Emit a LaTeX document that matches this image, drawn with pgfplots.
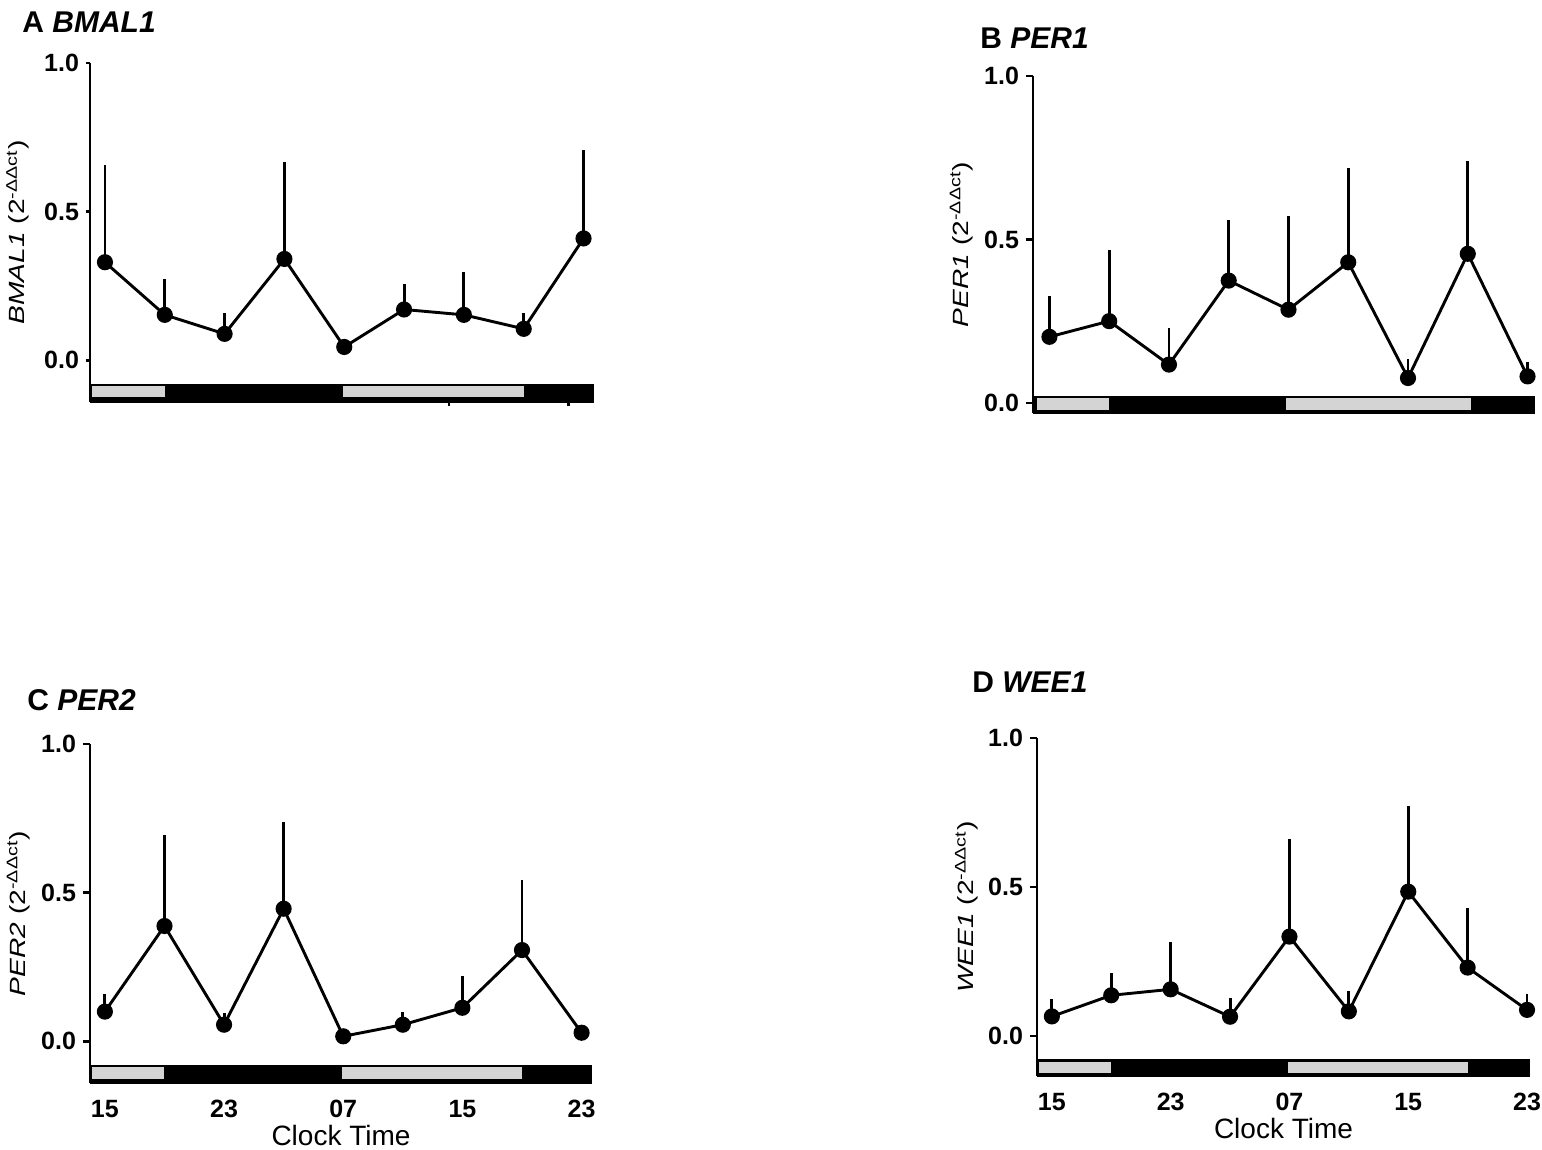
\documentclass[border=0pt]{standalone}
\usepackage{fontspec}
\setmainfont{Liberation Sans}
\usepackage{pgfplots}
\pgfplotsset{compat=1.18}
\definecolor{lightbar}{HTML}{D4D4D4}
\newcommand{\ylab}[1]{\scalebox{1.28}[1]{\textit{#1} (2\textsuperscript{-ΔΔct})}}
\pgfplotsset{
  panel/.style={
    scale only axis, axis lines*=left, clip=false,
    ymax=1.0, ytick={0,0.5,1}, yticklabels={0.0,0.5,1.0},
    tick align=outside, major tick length=3.5pt,
    axis line style={line width=1.4pt,black},
    tick style={line width=1.2pt,black},
    tick label style={font=\bfseries\fontsize{12.5}{14}\selectfont},
    /pgf/number format/assume math mode=true,
    every axis y label/.style={at={(axis description cs:-0.143,0.5)},rotate=90,anchor=center,font=\fontsize{11}{12}\selectfont},
    every axis x label/.style={at={(axis description cs:0.5,0)},anchor=center,yshift=-26pt,font=\fontsize{14}{16}\selectfont},
  },
  series/.style={black, line width=1.45pt, mark=*, mark size=3.3pt,
    error bars/.cd, y dir=plus, y explicit, error mark=none,
    error bar style={line width=1.45pt}},
  timelabels/.style={xtick={15,23,31,39,47}, xticklabels={15,23,07,15,23},
    xtick style={draw=none}, xticklabel style={yshift=-1.5pt}},
}
\begin{document}
\begin{tikzpicture}[x=1pt,y=1pt]
\path[use as bounding box] (0,0) rectangle (771,575);

% ---------- A BMAL1
\begin{axis}[panel, at={(45pt,374pt)}, anchor=south west, width=252pt, height=169.5pt,
  xmin=14, xmax=47.7, ymin=-0.14, xtick={38,46}, xticklabels={}, major tick length=2pt,
  ylabel={\ylab{BMAL1}}]
\addplot[fill=black,draw=none] coordinates {(14,-0.078) (47.7,-0.078) (47.7,-0.14) (14,-0.14)} --cycle;
\addplot[fill=lightbar,draw=none] coordinates {(14.15,-0.087) (19,-0.087) (19,-0.124) (14.15,-0.124)} --cycle;
\addplot[fill=lightbar,draw=none] coordinates {(30.9,-0.087) (43,-0.087) (43,-0.124) (30.9,-0.124)} --cycle;
\addplot[series] table[x=t,y=m,y error=e] {
t m e
15 0.330 0.327
19 0.153 0.121
23 0.089 0.070
27 0.341 0.327
31 0.045 0.0
35 0.171 0.086
39 0.153 0.143
43 0.106 0.053
47 0.410 0.297
};
\end{axis}

% ---------- B PER1
\begin{axis}[panel, at={(516.5pt,368.5pt)}, anchor=south west, width=251pt, height=168.5pt,
  xmin=13.9, xmax=47.5, ymin=-0.031, xtick=\empty,
  ylabel={\ylab{PER1}}]
\addplot[fill=black,draw=none] coordinates {(13.9,0.022) (47.5,0.022) (47.5,-0.031) (13.9,-0.031)} --cycle;
\addplot[fill=lightbar,draw=none] coordinates {(14.15,0.015) (19,0.015) (19,-0.022) (14.15,-0.022)} --cycle;
\addplot[fill=lightbar,draw=none] coordinates {(30.85,0.015) (43.2,0.015) (43.2,-0.022) (30.85,-0.022)} --cycle;
\addplot[series] table[x=t,y=m,y error=e] {
t m e
15 0.202 0.124
19 0.250 0.218
23 0.117 0.112
27 0.374 0.184
31 0.285 0.287
35 0.430 0.290
39 0.076 0.058
43 0.456 0.285
47 0.081 0.043
};
\end{axis}

% ---------- C PER2
\begin{axis}[panel, timelabels, at={(45pt,33.5pt)}, anchor=south west, width=251pt, height=169.5pt,
  xmin=14, xmax=47.7, ymin=-0.14,
  xlabel={Clock Time},
  ylabel={\ylab{PER2}}]
\addplot[fill=black,draw=none] coordinates {(14,-0.078) (47.7,-0.078) (47.7,-0.14) (14,-0.14)} --cycle;
\addplot[fill=lightbar,draw=none] coordinates {(14.15,-0.087) (19,-0.087) (19,-0.125) (14.15,-0.125)} --cycle;
\addplot[fill=lightbar,draw=none] coordinates {(30.9,-0.087) (43,-0.087) (43,-0.125) (30.9,-0.125)} --cycle;
\addplot[series] table[x=t,y=m,y error=e] {
t m e
15 0.100 0.060
19 0.388 0.305
23 0.056 0.039
27 0.446 0.292
31 0.017 0.0
35 0.056 0.042
39 0.113 0.106
43 0.307 0.234
47 0.029 0.0
};
\end{axis}

% ---------- D WEE1
\begin{axis}[panel, timelabels, at={(518.5pt,37pt)}, anchor=south west, width=246.5pt, height=169pt,
  xmin=14, xmax=47.2, ymin=-0.135,
  xlabel={Clock Time},
  ylabel={\ylab{WEE1}}]
\addplot[fill=black,draw=none] coordinates {(14,-0.078) (47.2,-0.078) (47.2,-0.135) (14,-0.135)} --cycle;
\addplot[fill=lightbar,draw=none] coordinates {(14.15,-0.087) (19,-0.087) (19,-0.125) (14.15,-0.125)} --cycle;
\addplot[fill=lightbar,draw=none] coordinates {(30.9,-0.087) (43,-0.087) (43,-0.125) (30.9,-0.125)} --cycle;
\addplot[series] table[x=t,y=m,y error=e] {
t m e
15 0.065 0.058
19 0.136 0.074
23 0.156 0.159
27 0.064 0.064
31 0.333 0.328
35 0.082 0.069
39 0.484 0.287
43 0.229 0.201
47 0.087 0.055
};
\end{axis}

% ---------- titles
\node[anchor=west,inner sep=0pt,font=\bfseries\fontsize{15}{18}\selectfont] at (11,564) {A \textit{BMAL1}};
\node[anchor=west,inner sep=0pt,font=\bfseries\fontsize{15}{18}\selectfont] at (490,556) {B \textit{PER1}};
\node[anchor=west,inner sep=0pt,font=\bfseries\fontsize{15}{18}\selectfont] at (13.5,225) {C \textit{PER2}};
\node[anchor=west,inner sep=0pt,font=\bfseries\fontsize{15}{18}\selectfont] at (486,234) {D \textit{WEE1}};
\end{tikzpicture}
\end{document}
